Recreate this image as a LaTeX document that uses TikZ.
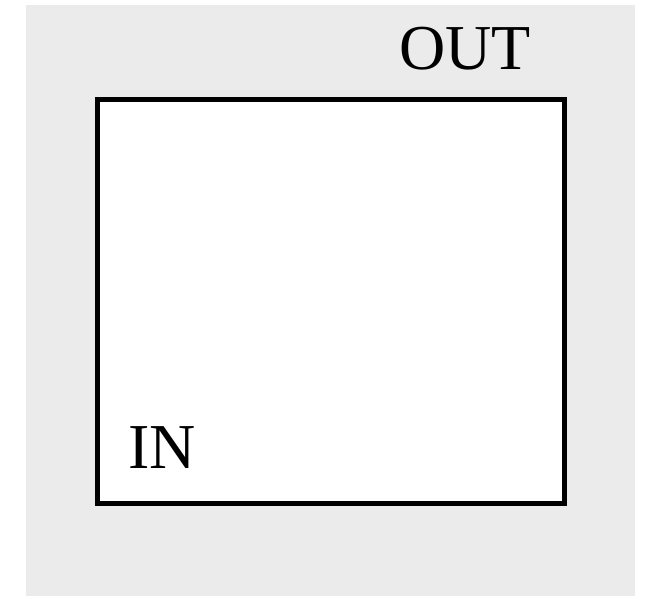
\documentclass[tikz,border=0pt]{standalone}
\usepackage{fontspec}
\setmainfont{Liberation Serif}
\usetikzlibrary{positioning}
\definecolor{PanelGray}{RGB}{235,235,235}
\tikzset{
  portbox/.style={
    draw=black,
    line width=5pt,
    fill=white,
    inner sep=0pt,
    outer sep=0pt
  },
  portlabel/.style={
    font=\fontsize{64}{70}\selectfont,
    inner sep=0pt
  }
}
\begin{document}
\begin{tikzpicture}[x=1pt,y=-1pt]
    \useasboundingbox (0,0) rectangle (650,596);
    \fill[PanelGray] (26,5) rectangle (635,596);
    \node[portbox,minimum width=466.5pt,minimum height=404pt,anchor=north west] (box) at (97.5,99.5) {};
    \node[portlabel,anchor=base west] (out) at (399,70) {OUT};
    \node[portlabel,anchor=base west] (in) at (128,468) {IN};
  \end{tikzpicture}
\end{document}
